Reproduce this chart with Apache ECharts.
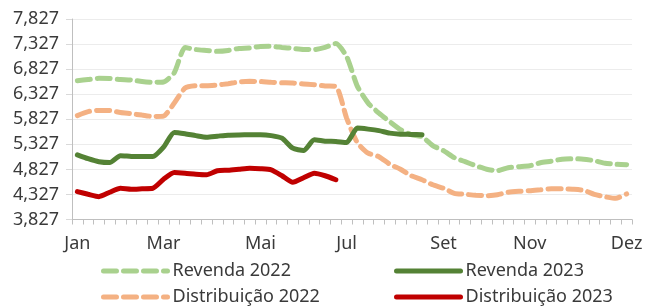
<!DOCTYPE html>
<html>
<head>
<meta charset="UTF-8">
<title></title>
<script src="https://cdn.jsdelivr.net/npm/echarts@6/dist/echarts.min.js"></script>
<style>
  * { margin: 0; padding: 0; }
  #app { width: 654px; height: 306px; }
</style>
</head>
<body>
<div id="app"></div>
<script>
var chart = echarts.init(document.getElementById('app'));

// 52 semanas; so alguns rotulos visiveis
var weeks = [];
for (var i = 0; i < 52; i++) weeks.push('S' + (i + 1));
var monthLabels = { 0: 'Jan', 8: 'Mar', 17: 'Mai', 25: 'Jul', 34: 'Set', 42: 'Nov', 51: 'Dez' };

var revenda2022 = [6597, 6620, 6643, 6640, 6620, 6610, 6580, 6563, 6570, 6757,
  7257, 7217, 7200, 7183, 7200, 7240, 7250, 7280, 7283, 7260,
  7240, 7220, 7217, 7260, 7337, 7080, 6483, 6150, 5950, 5780,
  5620, 5520, 5480, 5300, 5200, 5060, 4980, 4900, 4830, 4800,
  4860, 4880, 4900, 4960, 4990, 5030, 5040, 5030, 5000, 4950,
  4930, 4920];
var distrib2022 = [5900, 5980, 6003, 6000, 5960, 5937, 5910, 5883, 5890, 6150,
  6450, 6497, 6497, 6510, 6537, 6570, 6583, 6580, 6563, 6555,
  6550, 6530, 6517, 6490, 6483, 5850, 5357, 5150, 5080, 4930,
  4830, 4700, 4620, 4520, 4450, 4350, 4330, 4310, 4300, 4320,
  4370, 4390, 4400, 4420, 4440, 4440, 4430, 4410, 4330, 4280,
  4250, 4337];
var revenda2023 = [5117, 5040, 4980, 4963, 5100, 5085, 5083, 5083, 5270, 5563,
  5537, 5500, 5470, 5490, 5510, 5515, 5517, 5517, 5500, 5450,
  5250, 5203, 5417, 5390, 5383, 5363, 5650, 5630, 5600, 5550,
  5530, 5525, 5517];
var distrib2023 = [4383, 4330, 4283, 4370, 4450, 4430, 4440, 4450, 4630, 4763,
  4750, 4730, 4720, 4800, 4810, 4830, 4850, 4840, 4817, 4700,
  4570, 4660, 4750, 4700, 4620];

var font = 'Noto Sans';
var textColor = '#3a3a3a';

function lineSeries(name, data, color, dashed) {
  return {
    name: name,
    type: 'line',
    data: data,
    showSymbol: false,
    symbol: 'none',
    smooth: 0.2,
    lineStyle: { color: color, width: 5, type: dashed ? [13, 7] : 'solid', cap: 'round' },
    itemStyle: { color: color }
  };
}

function legendAt(name, left, top) {
  return {
    data: [name],
    left: left,
    top: top,
    itemWidth: 64,
    itemHeight: 14,
    itemGap: 8,
    itemStyle: { color: 'transparent', borderWidth: 0, opacity: 0 },
    lineStyle: { width: 5, type: 'inherit', cap: 'round' },
    textStyle: { fontFamily: font, fontSize: 18, color: textColor }
  };
}

var option = {
  animation: false,
  grid: { left: 72, right: 22, top: 19, bottom: 86.5 },
  legend: [
    legendAt('Revenda 2022', 96, 257),
    legendAt('Revenda 2023', 389, 257),
    legendAt('Distribuição 2022', 96, 283),
    legendAt('Distribuição 2023', 389, 283)
  ],
  xAxis: {
    type: 'category',
    data: weeks,
    boundaryGap: true,
    axisLine: { lineStyle: { color: '#bfbfbf', width: 1 } },
    axisTick: { show: true, interval: 0, length: 5, lineStyle: { color: '#bfbfbf' } },
    axisLabel: {
      interval: 0,
      margin: 15,
      fontFamily: font,
      fontSize: 18,
      color: textColor,
      formatter: function (v, idx) { return monthLabels[idx] || ''; }
    },
    splitLine: { show: false }
  },
  yAxis: {
    type: 'value',
    min: 3827,
    max: 7827,
    interval: 500,
    axisLine: { show: true, lineStyle: { color: '#bfbfbf' } },
    axisTick: { show: true, length: 6, lineStyle: { color: '#d9d9d9' } },
    axisLabel: {
      margin: 13,
      fontFamily: font,
      fontSize: 18,
      color: textColor,
      formatter: function (v) { return echarts.format.addCommas(v); }
    },
    splitLine: { lineStyle: { color: '#ececec', width: 1 } }
  },
  series: [
    lineSeries('Revenda 2022', revenda2022, '#a9d18e', true),
    lineSeries('Distribuição 2022', distrib2022, '#f4b183', true),
    lineSeries('Revenda 2023', revenda2023, '#548235', false),
    lineSeries('Distribuição 2023', distrib2023, '#c00000', false)
  ]
};

chart.setOption(option);
</script>
</body>
</html>
